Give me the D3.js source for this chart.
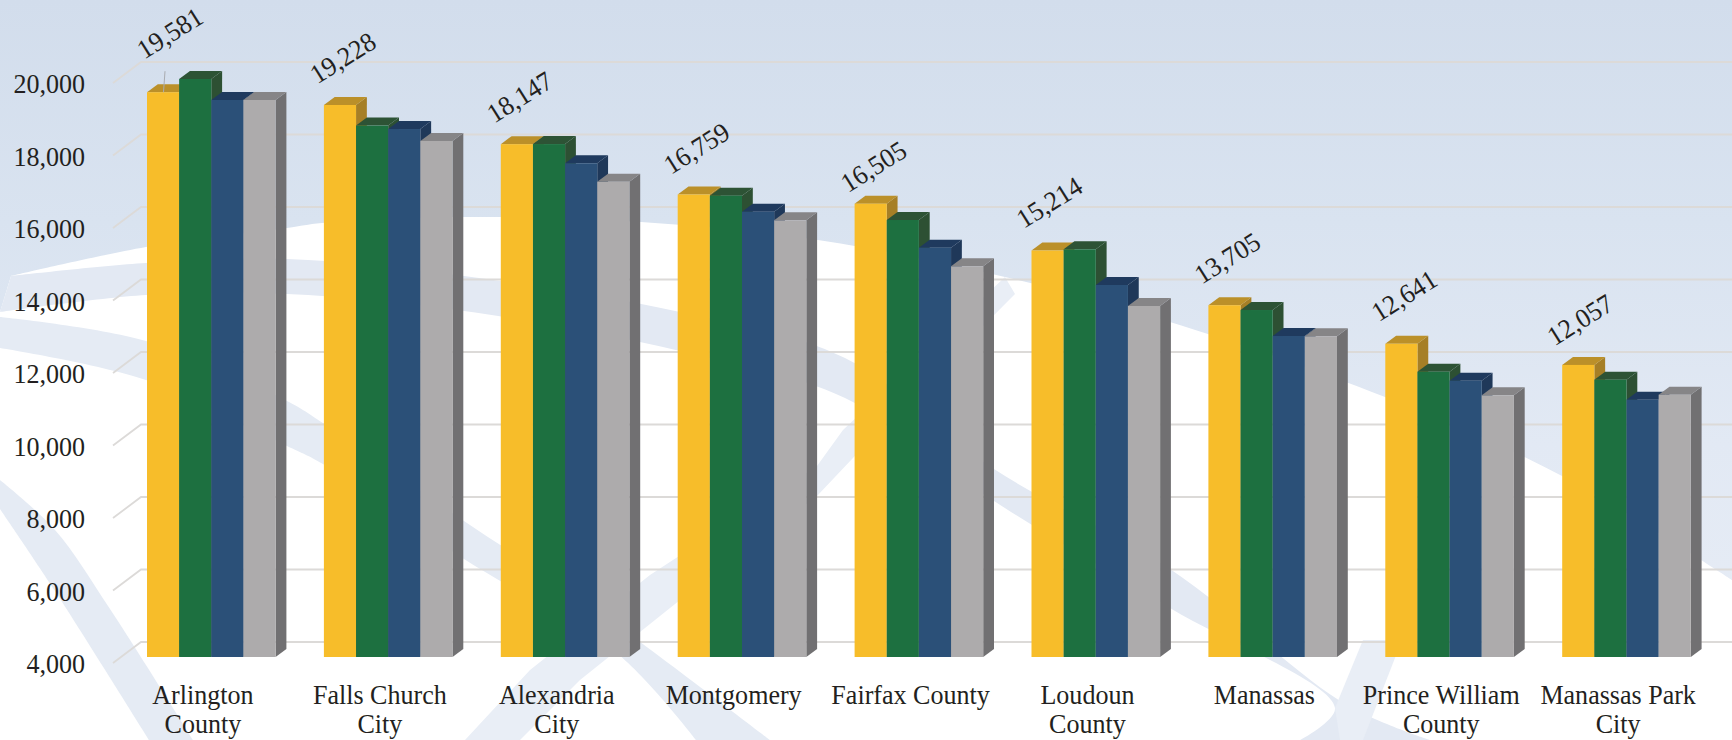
<!DOCTYPE html>
<html><head><meta charset="utf-8">
<script src="https://cdn.jsdelivr.net/npm/d3@7"></script>
<style>html,body{margin:0;padding:0;background:#fff;overflow:hidden}svg{display:block}text{font-family:"Liberation Serif","Times New Roman",serif;fill:#231f20}</style>
</head><body><svg id="c" width="1732" height="740"></svg>
<script>
const categories = ["Arlington County","Falls Church City","Alexandria City","Montgomery","Fairfax County","Loudoun County","Manassas","Prince William County","Manassas Park City"];
const categoryLines = [["Arlington","County"],["Falls Church","City"],["Alexandria","City"],["Montgomery"],["Fairfax County"],["Loudoun","County"],["Manassas"],["Prince William","County"],["Manassas Park","City"]];
const seriesA = [19581,19228,18147,16759,16505,15214,13705,12641,12057];
const seriesB = [19945,18660,18150,16727,16055,15247,13572,11870,11650];
const seriesC = [19366,18565,17620,16285,15292,14262,12855,11622,11098];
const seriesD = [19366,18235,17110,16046,14778,13683,12847,11219,11236];
const yTicks = [4000,6000,8000,10000,12000,14000,16000,18000,20000];
const seriesNames = ["A","B","C","D"];
const frontColors = ["#f7bd2a","#1d7040","#2b5078","#adabac"];
const topColors = ["#bb9029","#2d5335","#1f3a5e","#868587"];
const sideColors = ["#a67f26","#2d5033","#1f3859","#717072"];
const labelDx = [23,19,19,19,19,18,19,19,18];
const labelDy = [-59,-47,-47,-46,-37,-48,-47,-48,-45];

const series = [seriesA,seriesB,seriesC,seriesD];
const svg = d3.select("#c");
const W = 1732, H = 740;
const line = d3.line().curve(d3.curveCatmullRom.alpha(.5));

// background
const defs = svg.append("defs");
const g = defs.append("linearGradient").attr("id","bg").attr("x1",0).attr("y1",0).attr("x2",0).attr("y2",1);
[[0,"#d2ddec"],[.3,"#d9e3f0"],[.6,"#e2e9f4"],[1,"#e9eef6"]].forEach(s=>g.append("stop").attr("offset",s[0]).attr("stop-color",s[1]));
const bg = svg.append("g");
bg.append("rect").attr("width",W).attr("height",H).attr("fill","url(#bg)");
const whiteTop = [[11,276],[146,247],[287,228],[322,223],[464,217],[641,222],[818,240],[1005,277],[1170,322],[1385,397],[1564,477],[1732,580]];
bg.append("path").attr("fill","#fff").attr("d",line(whiteTop)+"L1732,740L0,740L0,312Z");
const band = (up,low,fill)=>bg.append("path").attr("fill",fill).attr("d",line(up)+"L"+line(low.slice().reverse()).slice(1)+"Z");
band([[11,276],[146,263],[287,259],[464,276],[680,312],[845,358],[994,469],[1170,569],[1347,705],[1430,740]],
     [[0,312],[146,295],[287,294],[464,311],[680,351],[845,398],[994,501],[1170,608],[1335,708],[1300,740]],"#e3e9f3");
band([[0,317],[146,341],[287,401],[323,423],[464,521],[580,598],[770,740]],
     [[0,348],[146,380],[287,446],[323,464],[464,559],[619,655],[696,740]],"#e5ebf4");
band([[0,480],[55,530],[110,609],[193,740]],[[0,509],[55,591],[149,740]],"#e5ebf4");
bg.append("path").attr("fill","#e9eef6").attr("d","M"+[[1005,277],[1015,294],[870,440],[817,496],[680,600],[580,680],[520,740],[465,740],[530,670],[650,575],[817,466],[843,430]].join("L")+"Z");
bg.append("path").attr("fill","#e9eef6").attr("d","M"+[[1335,708],[1363,640],[1402,640],[1363,740],[1340,740]].join("L")+"Z");

// scales
const y = d3.scaleLinear().domain([4000,20000]).range([657,77]);
const x = d3.scaleBand().domain(categories).range([114.5,114.5+176.9*9]);
const xs = d3.scaleBand().domain(seriesNames).range([32.5,161.1]);
const dx = 10.8, dy = 8;
const wallX0 = 113, wallX1 = 141, wallFront = 6, wallBack = -15;

// gridlines
const grid = svg.append("g").attr("fill","none").attr("stroke","#dcdad8");
grid.selectAll("path").data(yTicks).join("path").attr("stroke-width",1.8)
  .attr("d",d=>`M${wallX0},${y(d)+wallFront}L${wallX1},${y(d)+wallBack}L${W},${y(d)+wallBack}`);

// y axis
const axis = svg.append("g").attr("transform",`translate(85,${wallFront+1})`)
  .call(d3.axisLeft(y).tickValues(yTicks).tickFormat(d3.format(",")).tickSize(0).tickPadding(0));
axis.select(".domain").remove();
axis.selectAll("text").attr("font-size",27).attr("fill","#231f20").attr("transform","scale(.965,1)");

// bars
const groups = svg.selectAll("g.grp").data(categories).join("g").attr("class","grp")
  .attr("transform",d=>`translate(${x(d)},0)`);
groups.each(function(cat,i){
  const gr = d3.select(this), y0 = y(4000), w = xs.bandwidth();
  seriesNames.forEach((s,k)=>{
    const X = xs(s), Y = y(series[k][i]);
    gr.append("path").attr("fill",sideColors[k]).attr("d",`M${X+w},${Y}L${X+w+dx},${Y-dy}L${X+w+dx},${y0-dy}L${X+w},${y0}Z`);
    gr.append("path").attr("fill",topColors[k]).attr("d",`M${X},${Y}L${X+dx},${Y-dy}L${X+w+dx},${Y-dy}L${X+w},${Y}Z`);
    gr.append("rect").attr("x",X).attr("y",Y).attr("width",w).attr("height",y0-Y).attr("fill",frontColors[k]);
  });
});

// leader line on first label
svg.append("line").attr("x1",x(categories[0])+xs("A")+18).attr("x2",x(categories[0])+xs("A")+16.5)
  .attr("y1",y(seriesA[0])-21).attr("y2",y(seriesA[0])).attr("stroke","#a9abb0").attr("stroke-width",1);

// value labels
svg.selectAll("text.val").data(seriesA).join("text").attr("class","val")
  .attr("text-anchor","middle").attr("dy",".33em").attr("font-size",27)
  .attr("transform",(d,i)=>`translate(${x(categories[i])+xs("A")+labelDx[i]},${y(d)+labelDy[i]}) rotate(-32) scale(.965,1)`)
  .text(d3.format(","));

// category labels
const cl = svg.selectAll("text.cat").data(categoryLines).join("text").attr("class","cat")
  .attr("text-anchor","middle").attr("font-size",27)
  .attr("transform",(d,i)=>`translate(${x(categories[i])+x.bandwidth()/2},704) scale(.965,1)`);
cl.selectAll("tspan").data(d=>d).join("tspan").attr("x",0).attr("y",(d,j)=>j*29).text(d=>d);
</script></body></html>
